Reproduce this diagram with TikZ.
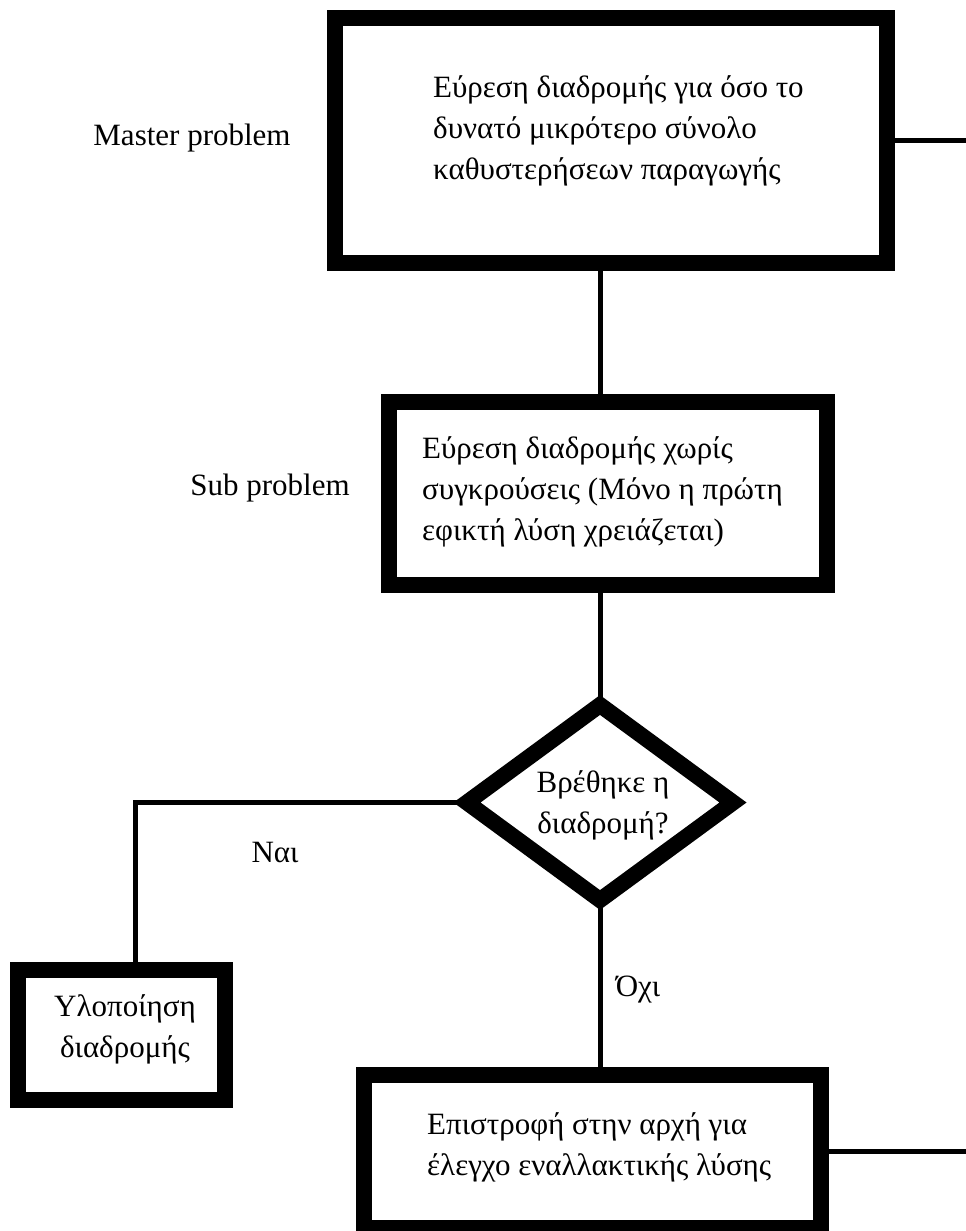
\documentclass[tikz,border=0pt]{standalone}
\usepackage{fontspec}
\setmainfont{Liberation Serif}
\usetikzlibrary{shapes.geometric}
\begin{document}
\begin{tikzpicture}[x=1pt,y=-1pt,
  boxstyle/.style={draw=black, line width=16pt, rectangle, inner sep=0pt, outer sep=0pt},
  decstyle/.style={draw=black, line width=16pt, diamond, inner sep=0pt, outer sep=0pt},
  conn/.style={draw=black, line width=5pt},
  txt/.style={font=\fontsize{31}{41}\selectfont, inner sep=0pt, align=left},
  ctxt/.style={font=\fontsize{31}{41}\selectfont, inner sep=0pt, align=center}]
\useasboundingbox (0,0) rectangle (966,1231);
\fill[white] (0,0) rectangle (966,1231);
\clip (0,0) rectangle (966,1231);
% boxes
\node[boxstyle, minimum width=552pt, minimum height=245pt] (m) at (611,140.5) {};
\node[boxstyle, minimum width=438pt, minimum height=183pt] (s) at (608,493.5) {};
\node[decstyle, minimum width=266pt, minimum height=195pt] (d) at (600,802.5) {};
\node[boxstyle, minimum width=207pt, minimum height=130pt] (y) at (121.5,1035) {};
\node[boxstyle, minimum width=457pt, minimum height=153pt] (b) at (592.5,1151.5) {};
% texts
\node[txt, anchor=west] (mt) at (433,131) {Εύρεση διαδρομής για όσο το\\δυνατό μικρότερο σύνολο\\καθυστερήσεων παραγωγής};
\node[txt, anchor=west] (st) at (422,492) {Εύρεση διαδρομής χωρίς\\συγκρούσεις (Μόνο η πρώτη\\εφικτή λύση χρειάζεται)};
\node[ctxt] (dt) at (603,805) {Βρέθηκε η\\διαδρομή?};
\node[ctxt] (yt) at (125,1029) {Υλοποίηση\\διαδρομής};
\node[txt, anchor=west] (bt) at (427,1147) {Επιστροφή στην αρχή για\\έλεγχο εναλλακτικής λύσης};
\node[txt] (ml) at (192,138) {Master problem};
\node[txt] (sl) at (270,488) {Sub problem};
\node[txt] (yes) at (275,852) {Ναι};
\node[txt] (no) at (638,990) {Όχι};
% connectors
\coordinate (e1) at (966,140.5);
\coordinate (e2) at (966,1151.5);
\coordinate (c1) at (135,802.5);
\draw[conn] (m.south -| d.north) -- (s.north -| d.north);
\draw[conn] (s.south -| d.north) -- (d.north);
\draw[conn] (d.south) -- (b.north -| d.south);
\draw[conn] (d.west) -- (c1) -- (c1 |- y.north);
\draw[conn] (m.east) -- (e1);
\draw[conn] (b.east) -- (e2);
\end{tikzpicture}
\end{document}
